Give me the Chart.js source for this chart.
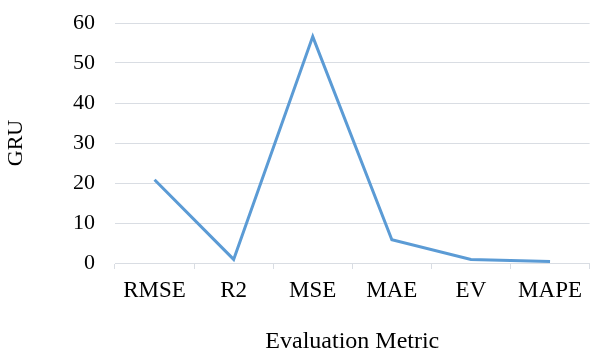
<!DOCTYPE html>
<html>
<head>
<meta charset="utf-8">
<script src="https://cdn.jsdelivr.net/npm/chart.js@4/dist/chart.umd.min.js"></script>
<style>
  html, body { margin: 0; padding: 0; background: #ffffff; }
  #wrap { width: 590px; height: 349px; }
</style>
</head>
<body>
<div id="wrap"><canvas id="c"></canvas></div>
<script>
// Evaluation metrics of the GRU model
const metrics = ['RMSE', 'R2', 'MSE', 'MAE', 'EV', 'MAPE'];
const gruValues = [20.8, 0.9, 56.6, 5.8, 0.9, 0.4];
const yTicks = [0, 10, 20, 30, 40, 50, 60];

const serif = '"Liberation Serif", "Times New Roman", serif';
const gridColor = '#d9dde3';

new Chart(document.getElementById('c'), {
  type: 'line',
  data: {
    labels: metrics,
    datasets: [{
      label: 'GRU',
      data: gruValues,
      borderColor: '#5b9bd5',
      borderWidth: 3,
      pointRadius: 0,
      tension: 0,
      fill: false
    }]
  },
  options: {
    responsive: true,
    maintainAspectRatio: false,
    animation: false,
    layout: { padding: { top: 23, right: 0, bottom: 0, left: 0 } },
    plugins: { legend: { display: false }, tooltip: { enabled: false } },
    scales: {
      x: {
        type: 'category',
        offset: true,
        grid: {
          offset: true,
          drawOnChartArea: false,
          drawTicks: true,
          tickLength: 6,
          color: gridColor
        },
        border: { display: true, color: gridColor, width: 1 },
        ticks: {
          color: '#000000',
          font: { family: serif, size: 23 },
          padding: 8,
          maxRotation: 0,
          autoSkip: false
        },
        title: {
          display: true,
          text: 'Evaluation Metric',
          color: '#000000',
          font: { family: serif, size: 24, lineHeight: 0.6 },
          padding: { top: 0, bottom: 0 }
        },
        afterFit: (s) => { s.height = 86; }
      },
      y: {
        min: 0,
        max: 60,
        afterBuildTicks: (s) => { s.ticks = yTicks.map(v => ({ value: v })); },
        grid: {
          color: gridColor,
          lineWidth: 1,
          drawTicks: true,
          tickLength: 20,
          tickColor: 'rgba(0,0,0,0)'
        },
        border: { display: false },
        ticks: {
          color: '#000000',
          font: { family: serif, size: 22 },
          padding: 0
        },
        title: {
          display: true,
          text: 'GRU',
          color: '#000000',
          font: { family: serif, size: 22 },
          padding: { top: 3, bottom: 0 }
        },
        afterFit: (s) => { s.width = 115; }
      }
    }
  }
});
</script>
</body>
</html>
